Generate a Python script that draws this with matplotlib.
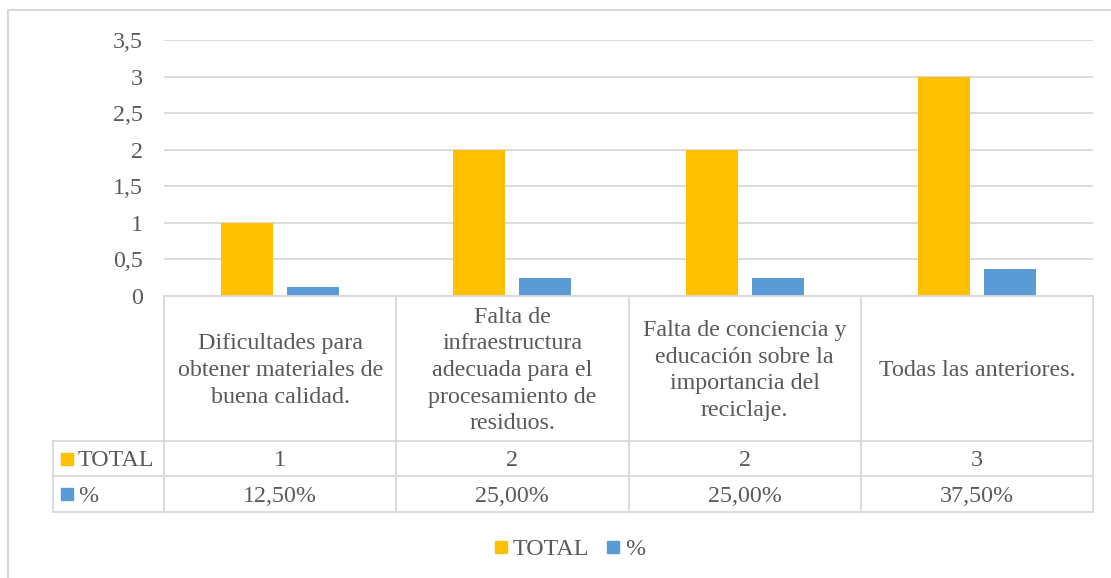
import matplotlib.pyplot as plt
import matplotlib.transforms as mtransforms
from matplotlib.lines import Line2D
from matplotlib.patches import Rectangle

categorias = [
    "Dificultades para\nobtener materiales de\nbuena calidad.",
    "Falta de\ninfraestructura\nadecuada para el\nprocesamiento de\nresiduos.",
    "Falta de conciencia y\neducación sobre la\nimportancia del\nreciclaje.",
    "Todas las anteriores.",
]
total = [1, 2, 2, 3]
porcentaje = [0.125, 0.25, 0.25, 0.375]
series = ["TOTAL", "%"]
yticks = [0, 0.5, 1, 1.5, 2, 2.5, 3, 3.5]

amarillo = "#FFC000"
azul = "#5B9BD5"
gris = "#595959"
linea = "#D9D9D9"
fs = 17.3

plt.rcParams["font.family"] = ["Liberation Serif", "DejaVu Serif"]
W, H = 1111, 578
fig = plt.figure(figsize=(W / 100, H / 100), dpi=100)

def fx(px):
    return px / W

def fy(px):
    return 1 - px / H

# baseline bajo el centro para que las mayúsculas queden centradas
cap = 7.6 / H

ax = fig.add_axes([fx(164), fy(296), fx(1093) - fx(164), fy(40) - fy(296)])
x = list(range(len(categorias)))
w = 0.224
off = 0.142
ax.bar([i - off for i in x], total, width=w, color=amarillo, zorder=3)
ax.bar([i + off for i in x], porcentaje, width=w, color=azul, zorder=3)
ax.set_xlim(-0.5, len(categorias) - 0.5)
ax.set_ylim(0, 3.5)
ax.set_yticks(yticks)
ax.set_yticklabels([("%g" % v).replace(".", ",") for v in yticks],
                   fontsize=fs, color=gris)
ax.tick_params(axis="y", length=0, pad=15)
ax.set_xticks([])
ax.grid(axis="y", color=linea, lw=1.3, zorder=0)
for s in ax.spines.values():
    s.set_visible(False)

# tabla de datos
tr = mtransforms.blended_transform_factory(ax.transData, fig.transFigure)
y0, y1, y2, y3 = fy(296), fy(441), fy(476), fy(512)
n = len(categorias)
for i in range(n + 1):
    fig.add_artist(Line2D([i - 0.5, i - 0.5], [y0, y3], transform=tr,
                          color=linea, lw=1.3, clip_on=False))
fig.add_artist(Line2D([-0.5, n - 0.5], [y0, y0], transform=tr,
                      color=linea, lw=1.3))
for yy in (y1, y2, y3):
    fig.add_artist(Line2D([fx(53), fx(1093)], [yy, yy], color=linea, lw=1.3))
fig.add_artist(Line2D([fx(53), fx(53)], [y1, y3], color=linea, lw=1.3))

for i, cat in enumerate(categorias):
    fig.text(i, (y0 + y1) / 2 - 2 / H, cat, transform=tr, ha="center",
             va="center", fontsize=fs, color=gris, linespacing=1.35)
    fig.text(i, (y1 + y2) / 2 - cap, str(total[i]), transform=tr,
             ha="center", va="baseline", fontsize=fs, color=gris)
    fig.text(i, (y2 + y3) / 2 - cap,
             ("%.2f%%" % (porcentaje[i] * 100)).replace(".", ","),
             transform=tr, ha="center", va="baseline", fontsize=fs, color=gris)

for k, (nombre, col) in enumerate(zip(series, [amarillo, azul])):
    yc = [(y1 + y2) / 2, (y2 + y3) / 2][k]
    fig.add_artist(Rectangle((fx(61), yc - 6 / H), 12 / W, 12 / H, color=col))
    fig.text(fx(78), yc - cap, nombre, ha="left", va="baseline", fontsize=fs,
             color=gris)

# leyenda
leg_y = fy(547)
for nombre, col, px in zip(series, [amarillo, azul], [495, 607]):
    fig.add_artist(Rectangle((fx(px), leg_y - 6 / H), 12 / W, 12 / H, color=col))
    fig.text(fx(px + 18), leg_y - cap, nombre, ha="left", va="baseline",
             fontsize=fs, color=gris)

# borde del gráfico
fig.add_artist(Line2D([fx(8), fx(8), fx(1111)], [0, fy(10), fy(10)],
                      color=linea, lw=1.5))

fig.savefig("out.png", dpi=100)
